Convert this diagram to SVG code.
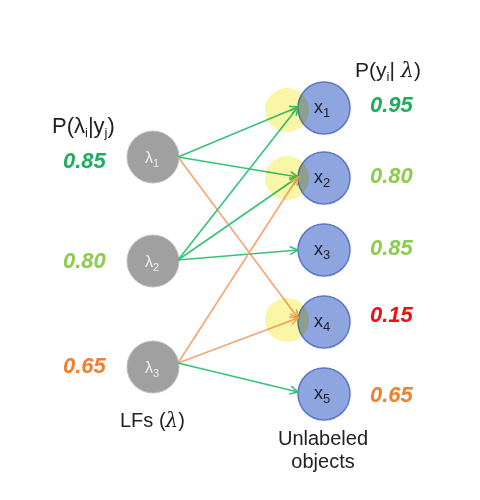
<svg xmlns="http://www.w3.org/2000/svg" width="480" height="500" viewBox="0 0 480 500">
<style>
.t{font-family:"Liberation Sans",Arial,sans-serif;fill:#222}
.num{font-family:"Liberation Sans",Arial,sans-serif;font-weight:bold;font-style:italic;font-size:22px}
.lam{fill:#a0a0a0;stroke:#bdbdbd;stroke-width:1}
.lt{font-family:"Liberation Sans",Arial,sans-serif;font-size:16px;fill:#eeeeee}
.xn{fill:#8fa5df;stroke:#5c78c6;stroke-width:1.5}
.xt{font-family:"Liberation Sans",Arial,sans-serif;font-size:18px;fill:#1e1e2a}
.g{stroke:#37c27a;stroke-width:1.6;fill:none}
.o{stroke:#f4a572;stroke-width:1.6;fill:none}
.hl{fill:#f7f283;opacity:0.7;mix-blend-mode:multiply}
</style>
<defs>
<marker id="ag" viewBox="0 0 10 10" refX="9" refY="5" markerWidth="10" markerHeight="10" markerUnits="userSpaceOnUse" orient="auto">
<path d="M1,1 L9,5 L1,9" fill="none" stroke="#37c27a" stroke-width="1.6"/>
</marker>
<marker id="ao" viewBox="0 0 10 10" refX="9" refY="5" markerWidth="10" markerHeight="10" markerUnits="userSpaceOnUse" orient="auto">
<path d="M1,1 L9,5 L1,9" fill="none" stroke="#f4a572" stroke-width="1.6"/>
</marker>
</defs>

<g id="lambda1"><circle class="lam" cx="153" cy="157" r="26"/><text class="lt" x="145" y="163">λ<tspan font-size="11" dy="4">1</tspan></text></g>
<g id="lambda2"><circle class="lam" cx="153" cy="261" r="26"/><text class="lt" x="145" y="267">λ<tspan font-size="11" dy="4">2</tspan></text></g>
<g id="lambda3"><circle class="lam" cx="153" cy="367" r="26"/><text class="lt" x="145" y="373">λ<tspan font-size="11" dy="4">3</tspan></text></g>

<g id="x1"><circle class="xn" cx="324" cy="108" r="26"/><text class="xt" x="314" y="113">x<tspan font-size="13" dy="4">1</tspan></text></g>
<g id="x2"><circle class="xn" cx="324" cy="178" r="26"/><text class="xt" x="314" y="183">x<tspan font-size="13" dy="4">2</tspan></text></g>
<g id="x3"><circle class="xn" cx="324" cy="250" r="26"/><text class="xt" x="314" y="255">x<tspan font-size="13" dy="4">3</tspan></text></g>
<g id="x4"><circle class="xn" cx="324" cy="322" r="26"/><text class="xt" x="314" y="327">x<tspan font-size="13" dy="4">4</tspan></text></g>
<g id="x5"><circle class="xn" cx="324" cy="394" r="26"/><text class="xt" x="314" y="399">x<tspan font-size="13" dy="4">5</tspan></text></g>

<g id="connectors">
<line class="g" x1="178" y1="157" x2="298" y2="107" marker-end="url(#ag)"/>
<line class="g" x1="178" y1="157" x2="298" y2="177" marker-end="url(#ag)"/>
<line class="o" x1="178" y1="157" x2="298" y2="318" marker-end="url(#ao)"/>
<line class="g" x1="178" y1="260" x2="298" y2="107" marker-end="url(#ag)"/>
<line class="g" x1="178" y1="260" x2="298" y2="177" marker-end="url(#ag)"/>
<line class="g" x1="178" y1="260" x2="298" y2="250" marker-end="url(#ag)"/>
<line class="o" x1="178" y1="363" x2="298" y2="177" marker-end="url(#ao)"/>
<line class="o" x1="178" y1="363" x2="298" y2="318" marker-end="url(#ao)"/>
<line class="g" x1="178" y1="363" x2="298" y2="392" marker-end="url(#ag)"/>
</g>

<g id="highlights">
<circle class="hl" cx="287" cy="110" r="22"/>
<circle class="hl" cx="287" cy="178" r="22"/>
<circle class="hl" cx="287" cy="320" r="22"/>
</g>

<g id="labels">
<text class="t" x="52" y="133" font-size="22">P(λ<tspan font-size="13" dy="4">i</tspan><tspan dy="-4">|y</tspan><tspan font-size="13" dy="4">j</tspan><tspan dy="-4">)</tspan></text>
<text class="num" x="63" y="168" fill="#1fae5e">0.85</text>
<text class="num" x="63" y="268" fill="#8ccc4e">0.80</text>
<text class="num" x="63" y="373" fill="#f07f2e">0.65</text>
<text class="t" x="120" y="427" font-size="20">LFs (<tspan font-style="italic" font-family="'DejaVu Serif',serif">λ</tspan>)</text>

<text class="t" x="355" y="77" font-size="21">P(y<tspan font-size="13" dy="4">i</tspan><tspan dy="-4">| </tspan><tspan font-style="italic" font-family="'DejaVu Serif',serif">λ</tspan>)</text>
<text class="num" x="370" y="112" fill="#1fae5e">0.95</text>
<text class="num" x="370" y="183" fill="#8ccc4e">0.80</text>
<text class="num" x="370" y="255" fill="#8ccc4e">0.85</text>
<text class="num" x="370" y="322" fill="#f01010">0.15</text>
<text class="num" x="370" y="402" fill="#f07f2e">0.65</text>
<text class="t" x="323" y="445" font-size="20" text-anchor="middle">Unlabeled</text>
<text class="t" x="323" y="468" font-size="20" text-anchor="middle">objects</text>
</g>
</svg>
